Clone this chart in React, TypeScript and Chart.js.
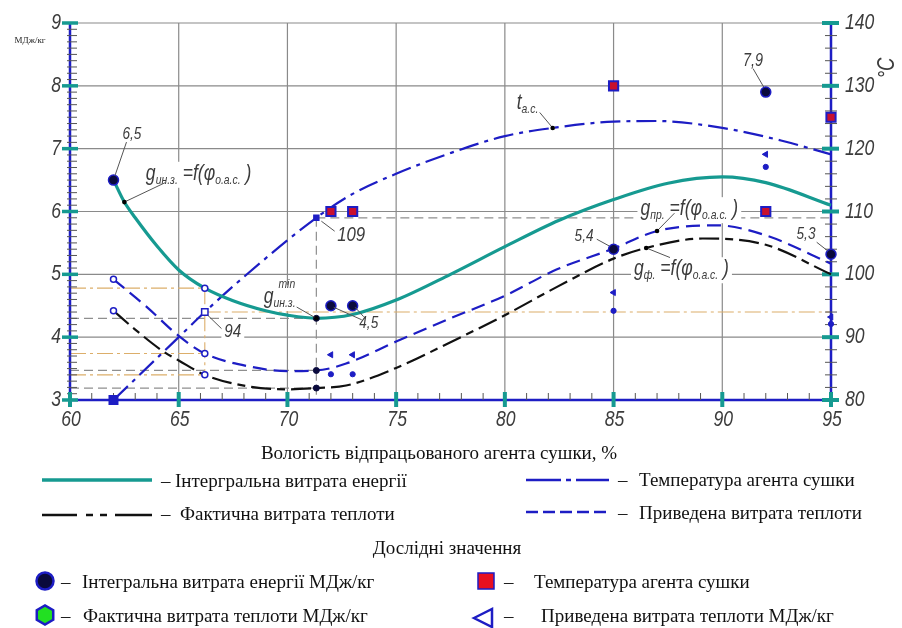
import React, { useEffect, useRef } from "react";
import { Chart, registerables } from "chart.js";

Chart.register(...registerables);

// ===== Axis ranges and tick labels =====
const X_MIN = 60;
const X_MAX = 95;
const Y_MIN = 3;
const Y_MAX = 9;
const T_MIN = 80;
const T_MAX = 140;
const X_TICKS = [60, 65, 70, 75, 80, 85, 90, 95];
const Y_TICKS = [3, 4, 5, 6, 7, 8, 9];
const T_TICKS = [80, 90, 100, 110, 120, 130, 140];

// ===== Fitted curves =====
// Інтегральна витрата енергії, МДж/кг
const integralX = [62, 62.5, 63, 64, 65, 66.2, 67.5, 69, 70, 71.33, 73, 75, 77.5, 80, 82.5, 85, 87.5, 90, 92, 95];
const integralY = [6.5, 6.15, 5.9, 5.45, 5.07, 4.78, 4.58, 4.42, 4.35, 4.3, 4.36, 4.59, 5.0, 5.44, 5.86, 6.19, 6.45, 6.55, 6.46, 6.1];
// Температура агента сушки, °C
const tempX = [62, 65, 66.2, 68, 71.33, 73, 75, 77.5, 80, 82.2, 85, 87, 90, 92.7, 95];
const tempY = [80, 90, 94, 99.6, 109, 112.8, 116, 119.3, 122, 123.3, 124.3, 124.4, 123.3, 121.3, 119.1];
// Фактична витрата теплоти, МДж/кг
const factX = [62, 63, 64.3, 65, 66.2, 68.3, 70, 71.33, 72.7, 75, 77.5, 80, 82.4, 85, 86.5, 89.1, 92, 95];
const factY = [4.42, 4.12, 3.77, 3.63, 3.4, 3.21, 3.17, 3.19, 3.23, 3.51, 3.92, 4.35, 4.8, 5.25, 5.42, 5.57, 5.47, 5.0];
// Приведена витрата теплоти, МДж/кг
const redX = [62, 63.5, 65, 66.2, 68.3, 70, 71.33, 72.7, 75, 77.5, 80, 82.4, 85, 87, 89.75, 92, 95];
const redY = [4.92, 4.49, 4.02, 3.74, 3.53, 3.46, 3.47, 3.58, 3.93, 4.3, 4.66, 5.08, 5.41, 5.69, 5.78, 5.62, 5.17];

// ===== Experimental values =====
const intExpX = [62, 72, 73, 85, 92, 95];
const intExpY = [6.5, 4.5, 4.5, 5.4, 7.9, 5.32];
const tempExpX = [72, 73, 85, 92, 95];
const tempExpY = [110, 110, 130, 110, 125];
const redExpX = [72, 73, 85, 92, 95];
const redExpY = [3.72, 3.72, 4.71, 6.91, 4.32];
const factExpX = [72, 73, 85, 92, 95];
const factExpY = [3.41, 3.41, 4.42, 6.71, 4.21];

// ===== Reading points on curves =====
const keyOpenX = [62, 62, 66.2, 66.2, 66.2];
const keyOpenY = [4.92, 4.42, 4.78, 3.74, 3.4];
const keyMinX = [71.33, 71.33, 71.33];
const keyMinY = [4.3, 3.47, 3.19];
const tempKeyX = [62, 66.2, 71.33];
const tempKeyY = [80, 94, 109];

// ===== Guide lines: [x1, v1, x2, v2, axis] =====
const guideGrey: [number, number, number, number, string][] = [
  [71.33, 109, 95, 109, "y2"],
  [71.33, 109, 71.33, 80, "y2"],
  [60, 4.3, 71.33, 4.3, "y"],
  [60, 3.47, 71.33, 3.47, "y"],
  [60, 3.19, 71.33, 3.19, "y"],
];
const guideOrange: [number, number, number, number, string][] = [
  [60, 4.78, 66.2, 4.78, "y"],
  [66.2, 4.78, 66.2, 3.4, "y"],
  [66.2, 94, 95, 94, "y2"],
  [60, 3.74, 66.2, 3.74, "y"],
  [60, 3.4, 66.2, 3.4, "y"],
];

// ===== Value callouts =====
const numberLabels = [
  { t: "6,5", x: 62, v: 6.5, ax: "y", dx: 18.5, dy: -45.5, size: 17, lead: [[13, -38, 1.5, -4.5]], bg: false },
  { t: "109", x: 71.33, v: 109, ax: "y2", dx: 34.8, dy: 17.7, size: 21, lead: [[5, 3.4, 18.3, 13.4]], bg: false },
  { t: "94", x: 66.2, v: 94, ax: "y2", dx: 28, dy: 19.8, size: 19, lead: [[3, 3.3, 16.7, 16.6]], bg: true },
  { t: "4,5", x: 73, v: 4.5, ax: "y", dx: 16.1, dy: 17.8, size: 17, lead: [[-19, 1.5, 9, 14], [2.5, 1.5, 11, 11]], bg: false },
  { t: "5,4", x: 85, v: 5.4, ax: "y", dx: -29.5, dy: -13.3, size: 17, lead: [[-16.8, -10, -4.5, -3.3]], bg: false },
  { t: "7,9", x: 92, v: 7.9, ax: "y", dx: -12.7, dy: -31.5, size: 18, lead: [[-12.7, -23.5, -2, -5]], bg: false },
  { t: "5,3", x: 95, v: 5.32, ax: "y", dx: -25, dy: -20.2, size: 17, lead: [[-14.3, -12, -3.5, -3.5]], bg: false },
];

type Part = [string, number, number];
const formulaLabels: { parts: Part[]; x: number; v: number; ax: string; dx: number; dy: number; lead: number[]; sup?: string }[] = [
  { parts: [["g", 22, 0], ["ин.з.", 13, 4], [" =f(φ", 22, 0], ["о.а.с.", 13, 4], [" )", 22, 0]], x: 62.5, v: 6.15, ax: "y", dx: 21.5, dy: -22.3, lead: [41.2, -19.6] },
  { parts: [["t", 22, 0], ["а.с.", 13, 4]], x: 82.2, v: 123.3, ax: "y2", dx: -36, dy: -19, lead: [-13, -15.5] },
  { parts: [["g", 22, 0], ["ин.з.", 13, 4]], x: 71.33, v: 4.3, ax: "y", dx: -52.7, dy: -15.3, lead: [-19.7, -11.3], sup: "min" },
  { parts: [["g", 22, 0], ["пр.", 13, 4], [" =f(φ", 22, 0], ["о.а.с.", 13, 4], [" )", 22, 0]], x: 87, v: 5.69, ax: "y", dx: -16.6, dy: -15.8, lead: [17.4, -17.8] },
  { parts: [["g", 22, 0], ["ф.", 13, 4], [" =f(φ", 22, 0], ["о.а.с.", 13, 4], [" )", 22, 0]], x: 86.5, v: 5.42, ax: "y", dx: -12.2, dy: 27.3, lead: [23.8, 9.6] },
];

// ===== Texts =====
const X_TITLE = "Вологість відпрацьованого агента сушки, %";
const Y_UNIT = "МДж/кг";
const T_UNIT = "°C";
const LEGEND_LINES = ["Інтергральна витрата енергії", "Фактична витрата теплоти", "Температура агента сушки", "Приведена витрата теплоти"];
const LEGEND_SUBTITLE = "Дослідні значення";
const LEGEND_POINTS = ["Інтегральна витрата енергії МДж/кг", "Фактична витрата теплоти МДж/кг", "Температура агента сушки", "Приведена витрата теплоти МДж/кг"];

// ===== Colours =====
const TEAL = "#169a91";
const BLUE = "#1d1dc4";
const NAVY = "#0a0a3c";
const BLACK = "#111111";
const GRID = "#8a8a8a";
const ORANGE = "#dcae6a";
const LABEL = "#3c3c3c";

const NARROW = 0.8;
const NUM_FONT = (s: number) => `italic ${s}px "Liberation Sans", "DejaVu Sans", sans-serif`;
const SERIF = (s: number) => `${s}px "Liberation Serif", "Times New Roman", serif`;

const pts = (xs: number[], ys: number[]) => xs.map((x, i) => ({ x, y: ys[i] }));

function seg(ctx: CanvasRenderingContext2D, x1: number, y1: number, x2: number, y2: number) {
  ctx.beginPath();
  ctx.moveTo(x1, y1);
  ctx.lineTo(x2, y2);
  ctx.stroke();
}

// narrow italic text (drawing-style lettering)
function ntext(ctx: CanvasRenderingContext2D, t: string, x: number, y: number, size: number, align: CanvasTextAlign, baseline: CanvasTextBaseline) {
  ctx.save();
  ctx.font = NUM_FONT(size);
  ctx.textAlign = align;
  ctx.textBaseline = baseline;
  ctx.translate(x, y);
  ctx.scale(NARROW, 1);
  ctx.fillText(t, 0, 0);
  ctx.restore();
}
function nwidth(ctx: CanvasRenderingContext2D, t: string, size: number) {
  ctx.save();
  ctx.font = NUM_FONT(size);
  const w = ctx.measureText(t).width * NARROW;
  ctx.restore();
  return w;
}

function partsWidth(ctx: CanvasRenderingContext2D, parts: Part[]) {
  let w = 0;
  for (const [t, s] of parts) w += nwidth(ctx, t, s);
  return w;
}

const drawPlugin = {
  id: "drawing",
  beforeDraw(chart: any) {
    const ctx = chart.ctx;
    ctx.save();
    ctx.fillStyle = "#fff";
    ctx.fillRect(0, 0, chart.width, chart.height);
    ctx.restore();
  },
  beforeDatasetsDraw(chart: any) {
    const ctx: CanvasRenderingContext2D = chart.ctx;
    const sx = chart.scales.x;
    const sy = chart.scales.y;
    const L = sx.left, R = sx.right, T = sy.top, B = sy.bottom;
    const P = (x: number) => sx.getPixelForValue(x);
    const V = (v: number, ax: string) => chart.scales[ax].getPixelForValue(v);
    ctx.save();
    // grid
    ctx.strokeStyle = GRID;
    ctx.lineWidth = 1.2;
    for (const v of X_TICKS.slice(1, -1)) seg(ctx, P(v), T, P(v), B);
    for (const v of Y_TICKS.slice(1)) seg(ctx, L, V(v, "y"), R, V(v, "y"));
    // guide lines
    ctx.setLineDash([9, 5]);
    ctx.strokeStyle = "#8f8f8f";
    ctx.lineWidth = 1.2;
    for (const [x1, v1, x2, v2, ax] of guideGrey) seg(ctx, P(x1), V(v1, ax), P(x2), V(v2, ax));
    ctx.setLineDash([16, 4, 3, 4]);
    ctx.strokeStyle = ORANGE;
    ctx.lineWidth = 1.1;
    for (const [x1, v1, x2, v2, ax] of guideOrange) seg(ctx, P(x1), V(v1, ax), P(x2), V(v2, ax));
    ctx.setLineDash([]);

    // formula labels with white background
    for (const f of formulaLabels) {
      const ax = P(f.x), ay = V(f.v, f.ax);
      const x0 = ax + f.dx, y0 = ay + f.dy;
      const w = partsWidth(ctx, f.parts);
      ctx.fillStyle = "#fff";
      ctx.fillRect(x0 - 3, y0 - 18, w + 6, 26);
      ctx.fillStyle = LABEL;
      let cx = x0;
      let gEnd = x0;
      f.parts.forEach(([t, s, d], i) => {
        ntext(ctx, t, cx, y0 + d, s, "left", "alphabetic");
        cx += nwidth(ctx, t, s);
        if (i === 0) gEnd = cx;
      });
      if (f.sup) ntext(ctx, f.sup, gEnd + 5, y0 - 15, 13, "left", "alphabetic");
    }
    // numeric callouts
    for (const n of numberLabels) {
      const cx = P(n.x) + n.dx, cy = V(n.v, n.ax) + n.dy;
      if (n.bg) {
        const w = nwidth(ctx, n.t, n.size);
        ctx.fillStyle = "#fff";
        ctx.fillRect(cx - w / 2 - 3, cy - n.size / 2, w + 6, n.size);
      }
      ctx.fillStyle = LABEL;
      ntext(ctx, n.t, cx, cy, n.size, "center", "middle");
    }

    // axes
    ctx.strokeStyle = BLUE;
    ctx.lineWidth = 2.5;
    seg(ctx, L, T, L, B);
    seg(ctx, R, T, R, B);
    seg(ctx, L, B, R, B);
    // left axis ticks
    for (let i = 0; i <= (Y_MAX - Y_MIN) * 10; i++) {
      const v = Y_MIN + i / 10;
      const y = V(v, "y");
      if (i % 10 === 0) {
        ctx.strokeStyle = TEAL;
        ctx.lineWidth = 3.5;
        seg(ctx, L - 8, y, L + 8, y);
      } else {
        ctx.strokeStyle = "#555";
        ctx.lineWidth = 1;
        seg(ctx, L - 3, y, L + 7, y);
      }
    }
    // bottom axis ticks
    for (let x = X_MIN; x <= X_MAX; x++) {
      const px = P(x);
      if (x % 5 === 0) {
        ctx.strokeStyle = TEAL;
        ctx.lineWidth = 4;
        seg(ctx, px, B - 8, px, B + 7);
      } else {
        ctx.strokeStyle = "#555";
        ctx.lineWidth = 1;
        seg(ctx, px, B - 7, px, B);
      }
    }
    // right axis ticks
    for (let t = T_MIN; t <= T_MAX; t += 2) {
      const y = V(t, "y2");
      if (t % 10 === 0) {
        ctx.strokeStyle = TEAL;
        ctx.lineWidth = 4;
        seg(ctx, R - 9, y, R + 8, y);
      } else {
        ctx.strokeStyle = "#555";
        ctx.lineWidth = 1;
        seg(ctx, R - 6, y, R + 6, y);
      }
    }
    ctx.restore();
  },
  afterDatasetsDraw(chart: any) {
    const ctx: CanvasRenderingContext2D = chart.ctx;
    const sx = chart.scales.x;
    const P = (x: number) => sx.getPixelForValue(x);
    const V = (v: number, ax: string) => chart.scales[ax].getPixelForValue(v);
    ctx.save();
    ctx.strokeStyle = "#555";
    ctx.lineWidth = 1;
    for (const n of numberLabels) {
      const ax = P(n.x), ay = V(n.v, n.ax);
      for (const [a, b, c, d] of n.lead) seg(ctx, ax + a, ay + b, ax + c, ay + d);
    }
    for (const f of formulaLabels) {
      const ax = P(f.x), ay = V(f.v, f.ax);
      ctx.strokeStyle = "#555";
      seg(ctx, ax + f.lead[0], ay + f.lead[1], ax, ay);
      ctx.fillStyle = "#000";
      ctx.beginPath();
      ctx.arc(ax, ay, 2.3, 0, Math.PI * 2);
      ctx.fill();
    }
    ctx.restore();
  },
  afterDraw(chart: any) {
    const ctx: CanvasRenderingContext2D = chart.ctx;
    const sx = chart.scales.x;
    const sy = chart.scales.y;
    const st = chart.scales.y2;
    const L = sx.left, R = sx.right, B = sy.bottom;
    ctx.save();
    // tick labels
    ctx.fillStyle = LABEL;
    for (const v of Y_TICKS) ntext(ctx, String(v), L - 9, sy.getPixelForValue(v), 22, "right", "middle");
    for (const v of T_TICKS) ntext(ctx, String(v), R + 14, st.getPixelForValue(v), 22, "left", "middle");
    for (const v of X_TICKS) ntext(ctx, String(v), sx.getPixelForValue(v) + 1, B + 20, 22, "center", "middle");
    // unit labels
    ctx.font = SERIF(9);
    ctx.fillStyle = "#222";
    ctx.textAlign = "center";
    ctx.textBaseline = "middle";
    ctx.fillText(Y_UNIT, 30, 41);
    ctx.save();
    ctx.translate(888, 68);
    ctx.rotate(-Math.PI / 2);
    ctx.fillStyle = LABEL;
    ntext(ctx, T_UNIT, 0, 0, 23, "center", "middle");
    ctx.restore();

    // legend
    ctx.fillStyle = "#111";
    ctx.textBaseline = "alphabetic";
    ctx.font = SERIF(19);
    ctx.textAlign = "center";
    ctx.fillText(X_TITLE, 439, 459);
    ctx.fillText(LEGEND_SUBTITLE, 447, 554);
    ctx.textAlign = "left";
    // line samples
    ctx.lineCap = "butt";
    ctx.strokeStyle = TEAL;
    ctx.lineWidth = 3.5;
    seg(ctx, 42, 480, 152, 480);
    ctx.strokeStyle = BLACK;
    ctx.lineWidth = 2.5;
    for (const [a, b] of [[42, 77], [86, 93], [100, 107], [115, 152]]) seg(ctx, a, 515, b, 515);
    ctx.strokeStyle = BLUE;
    ctx.lineWidth = 2.5;
    for (const [a, b] of [[526, 561], [566, 571], [576, 609]]) seg(ctx, a, 480, b, 480);
    for (let i = 0; i < 5; i++) seg(ctx, 526 + i * 17, 512, 538 + i * 17, 512);
    ctx.fillText("–", 161, 487);
    ctx.fillText(LEGEND_LINES[0], 175, 487);
    ctx.fillText("–", 161, 520);
    ctx.fillText(LEGEND_LINES[1], 180, 520);
    ctx.fillText("–", 618, 486);
    ctx.fillText(LEGEND_LINES[2], 639, 486);
    ctx.fillText("–", 618, 519);
    ctx.fillText(LEGEND_LINES[3], 639, 519);

    // point samples
    ctx.fillStyle = NAVY;
    ctx.strokeStyle = BLUE;
    ctx.lineWidth = 2.5;
    ctx.beginPath();
    ctx.arc(45, 581, 8.5, 0, Math.PI * 2);
    ctx.fill();
    ctx.stroke();
    ctx.fillStyle = "#22e022";
    ctx.beginPath();
    for (let k = 0; k < 6; k++) {
      const a = Math.PI / 6 + (k * Math.PI) / 3;
      const hx = 45 + 9.5 * Math.cos(a), hy = 615 + 9.5 * Math.sin(a);
      if (k === 0) ctx.moveTo(hx, hy);
      else ctx.lineTo(hx, hy);
    }
    ctx.closePath();
    ctx.fill();
    ctx.stroke();
    ctx.fillStyle = "#e81020";
    ctx.lineWidth = 1.5;
    ctx.fillRect(478, 573, 16, 16);
    ctx.strokeRect(478, 573, 16, 16);
    ctx.fillStyle = "#fff";
    ctx.lineWidth = 2.5;
    ctx.beginPath();
    ctx.moveTo(474, 618);
    ctx.lineTo(492, 609);
    ctx.lineTo(492, 627);
    ctx.closePath();
    ctx.fill();
    ctx.stroke();

    ctx.fillStyle = "#111";
    ctx.fillText("–", 61, 588);
    ctx.fillText(LEGEND_POINTS[0], 82, 588);
    ctx.fillText("–", 61, 622);
    ctx.fillText(LEGEND_POINTS[1], 83, 622);
    ctx.fillText("–", 504, 588);
    ctx.fillText(LEGEND_POINTS[2], 534, 588);
    ctx.fillText("–", 504, 622);
    ctx.fillText(LEGEND_POINTS[3], 541, 622);
    ctx.restore();
  },
};

export default function App() {
  const ref = useRef<HTMLCanvasElement>(null);
  useEffect(() => {
    const common = { clip: false as const, pointHoverRadius: 0 };
    const chart = new Chart(ref.current!, {
      type: "line",
      data: {
        datasets: [
          {
            label: LEGEND_POINTS[0], data: pts(intExpX, intExpY), yAxisID: "y", showLine: false,
            pointStyle: "circle", pointRadius: 5, pointBackgroundColor: NAVY, pointBorderColor: BLUE, pointBorderWidth: 1.5, ...common,
          },
          {
            label: LEGEND_POINTS[2], data: pts(tempExpX, tempExpY), yAxisID: "y2", showLine: false,
            pointStyle: "rect", pointRadius: 6.5, pointBackgroundColor: "#c8102e", pointBorderColor: BLUE, pointBorderWidth: 2, ...common,
          },
          {
            label: LEGEND_POINTS[3], data: pts(redExpX, redExpY), yAxisID: "y", showLine: false,
            pointStyle: "triangle", pointRotation: -90, pointRadius: 3.5, pointBackgroundColor: BLUE, pointBorderColor: BLUE, pointBorderWidth: 1, ...common,
          },
          {
            label: LEGEND_POINTS[1], data: pts(factExpX, factExpY), yAxisID: "y", showLine: false,
            pointStyle: "circle", pointRadius: 2.6, pointBackgroundColor: BLUE, pointBorderColor: BLUE, pointBorderWidth: 1, ...common,
          },
          {
            label: "open", data: pts(keyOpenX, keyOpenY), yAxisID: "y", showLine: false,
            pointStyle: "circle", pointRadius: 3, pointBackgroundColor: "#fff", pointBorderColor: BLUE, pointBorderWidth: 1.5, ...common,
          },
          {
            label: "min", data: pts(keyMinX, keyMinY), yAxisID: "y", showLine: false,
            pointStyle: "circle", pointRadius: 3, pointBackgroundColor: NAVY, pointBorderColor: NAVY, pointBorderWidth: 1, ...common,
          },
          {
            label: "tkey", data: pts(tempKeyX, tempKeyY), yAxisID: "y2", showLine: false,
            pointStyle: "rect", pointRadius: [6, 4.5, 3.5], pointBackgroundColor: [BLUE, "#fff", BLUE], pointBorderColor: BLUE, pointBorderWidth: 1.5, ...common,
          },
          {
            label: LEGEND_LINES[0], data: pts(integralX, integralY), yAxisID: "y",
            borderColor: TEAL, borderWidth: 3.2, pointRadius: 0, cubicInterpolationMode: "monotone", fill: false, ...common,
          },
          {
            label: LEGEND_LINES[2], data: pts(tempX, tempY), yAxisID: "y2",
            borderColor: BLUE, borderWidth: 2.2, borderDash: [20, 6, 4, 6], pointRadius: 0, cubicInterpolationMode: "monotone", fill: false, ...common,
          },
          {
            label: LEGEND_LINES[3], data: pts(redX, redY), yAxisID: "y",
            borderColor: BLUE, borderWidth: 2.2, borderDash: [14, 7], pointRadius: 0, cubicInterpolationMode: "monotone", fill: false, ...common,
          },
          {
            label: LEGEND_LINES[1], data: pts(factX, factY), yAxisID: "y",
            borderColor: BLACK, borderWidth: 2.2, borderDash: [20, 6, 8, 6], pointRadius: 0, cubicInterpolationMode: "monotone", fill: false, ...common,
          },
        ] as any,
      },
      options: {
        animation: false,
        responsive: false,
        devicePixelRatio: 1,
        events: [],
        layout: { padding: { left: 70, right: 71, top: 23, bottom: 228 } },
        plugins: { legend: { display: false }, tooltip: { enabled: false } },
        scales: {
          x: { type: "linear", min: X_MIN, max: X_MAX, display: false },
          y: { type: "linear", min: Y_MIN, max: Y_MAX, display: false },
          y2: { type: "linear", position: "right", min: T_MIN, max: T_MAX, display: false },
        },
      } as any,
      plugins: [drawPlugin],
    });
    return () => chart.destroy();
  }, []);
  return (
    <div style={{ position: "absolute", left: 0, top: 0, width: 902, height: 628, background: "#fff" }}>
      <canvas ref={ref} width={902} height={628} style={{ display: "block", width: 902, height: 628 }} />
    </div>
  );
}
